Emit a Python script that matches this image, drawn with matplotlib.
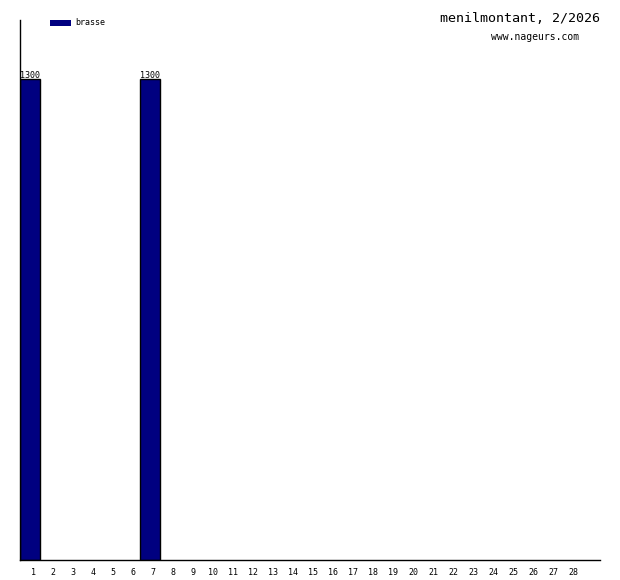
import matplotlib.pyplot as plt
import matplotlib.patches as mpatches

# data
days = list(range(1, 29))
brasse = [1300, 0, 0, 0, 0, 0, 1300] + [0] * 21
title = 'menilmontant, 2/2026'
site = 'www.nageurs.com'

W, H = 620, 580
fig = plt.figure(figsize=(W / 100, H / 100), dpi=100)
ax = fig.add_axes([20 / W, 20 / H, 580 / W, 540 / H])

mono = 'DejaVu Sans Mono'

# bars (only non-zero days are drawn)
for d, v in zip(days, brasse):
    if v > 0:
        ax.bar(d - 1, v, width=1, align='edge', color='#000080',
               edgecolor='black', linewidth=1)
        ax.text(d - 0.5, v - 2, str(v), ha='center', va='bottom',
                fontsize=6, family=mono)

ax.set_xlim(0, 29)
ax.set_ylim(0, 1460)
ax.set_xticks([d - 0.35 for d in days])
ax.set_xticklabels([str(d) for d in days], fontsize=6, family=mono)
ax.tick_params(axis='x', length=0, pad=6)
ax.set_yticks([])
ax.spines['top'].set_visible(False)
ax.spines['right'].set_visible(False)
ax.spines['left'].set_linewidth(1)
ax.spines['bottom'].set_linewidth(1)

# titles
fig.text(600 / W, 1 - 18 / H, title, ha='right', va='center',
         fontsize=9.6, family=mono)
fig.text(579 / W, 1 - 37 / H, site, ha='right', va='center',
         fontsize=7, family=mono)

# legend
fig.patches.append(mpatches.Rectangle((50 / W, 1 - 26 / H), 21 / W, 6 / H,
                                      transform=fig.transFigure,
                                      facecolor='#000080', edgecolor='none'))
fig.text(75 / W, 1 - 22.5 / H, 'brasse', ha='left', va='center',
         fontsize=6, family=mono)

fig.savefig('out.png', dpi=100, facecolor='white')
